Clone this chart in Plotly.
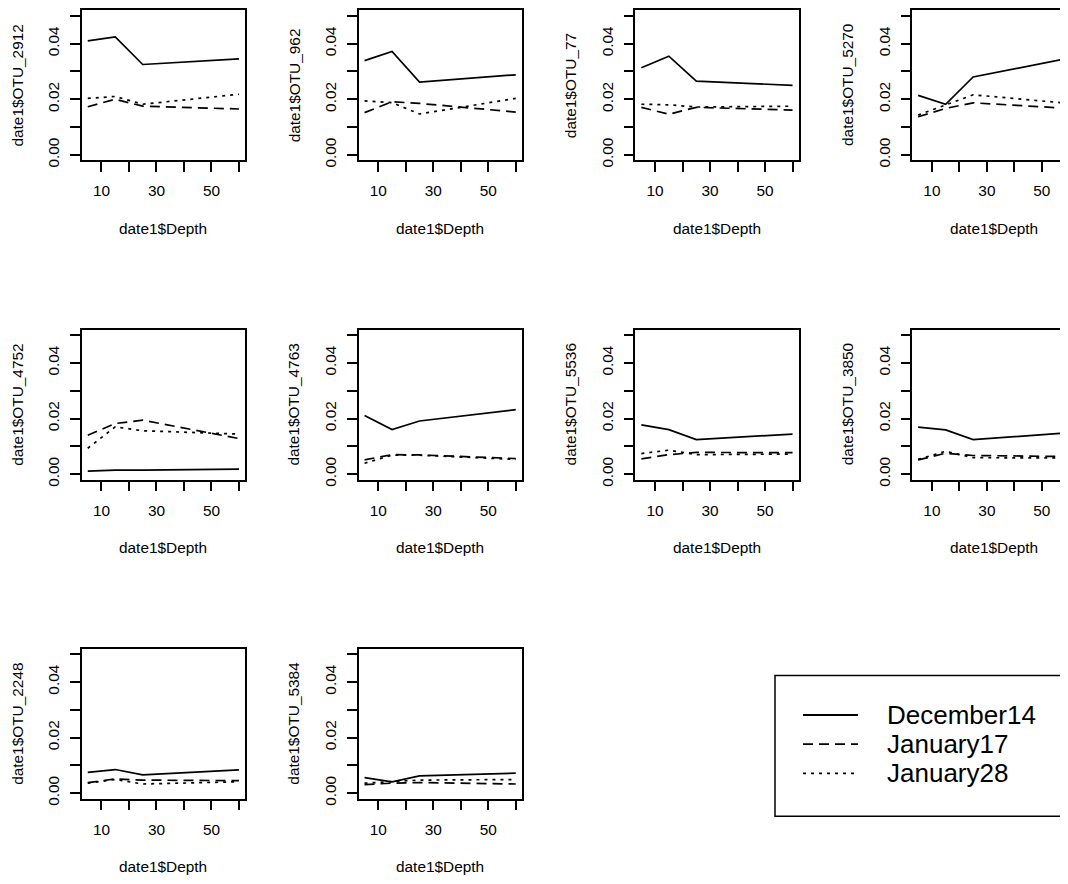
import plotly.graph_objects as go

# ---------------- data ----------------
depth = [5, 15, 25, 60]

otu_names = ["OTU_2912", "OTU_962", "OTU_77", "OTU_5270", "OTU_4752",
             "OTU_4763", "OTU_5536", "OTU_3850", "OTU_2248", "OTU_5384"]

december14 = [
    [0.0410, 0.0424, 0.0325, 0.0345],
    [0.0339, 0.0372, 0.0262, 0.0288],
    [0.0313, 0.0355, 0.0265, 0.0250],
    [0.0214, 0.0182, 0.0280, 0.0348],
    [0.0011, 0.0014, 0.0014, 0.0018],
    [0.0211, 0.0160, 0.0191, 0.0232],
    [0.0177, 0.0160, 0.0124, 0.0144],
    [0.0169, 0.0159, 0.0124, 0.0149],
    [0.0075, 0.0085, 0.0066, 0.0084],
    [0.0056, 0.0041, 0.0062, 0.0072],
]
january17 = [
    [0.0173, 0.0200, 0.0175, 0.0165],
    [0.0152, 0.0191, 0.0185, 0.0154],
    [0.0171, 0.0146, 0.0171, 0.0161],
    [0.0137, 0.0167, 0.0187, 0.0167],
    [0.0140, 0.0182, 0.0194, 0.0128],
    [0.0051, 0.0070, 0.0069, 0.0056],
    [0.0055, 0.0070, 0.0078, 0.0077],
    [0.0051, 0.0075, 0.0067, 0.0063],
    [0.0038, 0.0051, 0.0047, 0.0045],
    [0.0031, 0.0036, 0.0038, 0.0033],
]
january28 = [
    [0.0203, 0.0210, 0.0182, 0.0218],
    [0.0194, 0.0188, 0.0147, 0.0203],
    [0.0182, 0.0180, 0.0172, 0.0175],
    [0.0143, 0.0179, 0.0216, 0.0185],
    [0.0093, 0.0170, 0.0156, 0.0144],
    [0.0039, 0.0068, 0.0068, 0.0053],
    [0.0074, 0.0086, 0.0070, 0.0072],
    [0.0053, 0.0082, 0.0059, 0.0058],
    [0.0036, 0.0049, 0.0033, 0.0041],
    [0.0036, 0.0041, 0.0047, 0.0049],
]

series_names = ["December14", "January17", "January28"]
series_data = [december14, january17, january28]
series_dash = ["solid", "10px,6px", "3px,5px"]

x_tickvals = [10, 20, 30, 40, 50, 60]
x_ticktext = ["10", "", "30", "", "50", ""]
y_tickvals = [0.00, 0.01, 0.02, 0.03, 0.04, 0.05]
y_ticktext = ["0.00", "", "0.02", "", "0.04", ""]

# ---------------- layout geometry ----------------
# The page body has an 8px default margin; the figure is sized so that
# it fills the rest of the 1068x884 window.
OFF = 8
W, H = 1068 - OFF, 884 - OFF
FONT = "Liberation Sans, Arial, Helvetica, sans-serif"
FS = 15.4
box_w, box_h = 163.3, 151.5
col_left = [81.7 + 276.8 * c - OFF for c in range(4)]
row_top = [t - OFF for t in (9.3, 331.5, 653.5)]
x_full = [5 - 0.04 * 55, 60 + 0.04 * 55]   # R-style 4% padding
y_full = [0 - 0.04 * 0.05, 0.05 + 0.04 * 0.05]

fig = go.Figure()
layout = dict(
    width=W, height=H,
    margin=dict(l=0, r=0, t=0, b=0),
    paper_bgcolor="white", plot_bgcolor="white",
    showlegend=False,
    font=dict(family=FONT, size=FS, color="black"),
)
annotations = []
shapes = []

for i, name in enumerate(otu_names):
    r, c = divmod(i, 4)
    n = i + 1
    xs = "" if n == 1 else str(n)
    left = col_left[c]
    right = left + box_w
    xr = list(x_full)
    mirror_y = True
    if right > W:
        xr[1] = x_full[0] + (W - left) / box_w * (x_full[1] - x_full[0])
        right = W
        mirror_y = False
    top = row_top[r]
    bottom = top + box_h
    for s in range(3):
        fig.add_trace(go.Scatter(
            x=depth, y=series_data[s][i], mode="lines",
            name=series_names[s], legendgroup=series_names[s],
            line=dict(color="black", width=1.7, dash=series_dash[s]),
            xaxis="x" + xs, yaxis="y" + xs, showlegend=False,
            hoverinfo="x+y+name",
        ))
    layout["xaxis" + xs] = dict(
        domain=[left / W, right / W], anchor="y" + xs, range=xr,
        showgrid=False, zeroline=False, showline=True, mirror=True,
        linecolor="black", linewidth=1.8,
        ticks="outside", ticklen=9.5, tickwidth=1.8, tickcolor="black",
        tickvals=x_tickvals, ticktext=x_ticktext, ticklabelstandoff=6,
        tickfont=dict(family=FONT, size=FS, color="black"),
    )
    layout["yaxis" + xs] = dict(
        domain=[1 - bottom / H, 1 - top / H], anchor="x" + xs, range=y_full,
        showgrid=False, zeroline=False, showline=True, mirror=mirror_y,
        linecolor="black", linewidth=1.8,
        ticks="outside", ticklen=9.5, tickwidth=1.8, tickcolor="black",
        tickvals=y_tickvals, ticktext=y_ticktext, tickangle=-90,
        ticklabelstandoff=5,
        tickfont=dict(family=FONT, size=FS, color="black"),
    )
    annotations.append(dict(
        text="date1$Depth", xref="x" + xs + " domain", yref="y" + xs + " domain",
        x=(box_w / 2) / (right - left),
        y=0, yshift=-68, xanchor="center", yanchor="middle", showarrow=False,
        font=dict(family=FONT, size=FS, color="black"),
    ))
    annotations.append(dict(
        text="date1$" + name, xref="x" + xs + " domain", yref="y" + xs + " domain",
        x=0, xshift=-64.5, y=0.5, textangle=-90,
        xanchor="center", yanchor="middle", showarrow=False,
        font=dict(family=FONT, size=FS, color="black"),
    ))

# ---------------- legend (drawn like R's legend box) ----------------
leg_left, leg_top, leg_bottom = 775 - OFF, 680.7 - OFF, 822.7 - OFF
shapes.append(dict(type="rect", xref="paper", yref="paper",
                   x0=leg_left / W, x1=(W + 10) / W,
                   y0=1 - leg_bottom / H, y1=1 - leg_top / H,
                   line=dict(color="black", width=1.5), fillcolor="rgba(0,0,0,0)"))
leg_rows = [720.5 - OFF, 750.0 - OFF, 779.5 - OFF]
for s in range(3):
    yy = 1 - leg_rows[s] / H
    shapes.append(dict(type="line", xref="paper", yref="paper",
                       x0=(803 - OFF) / W, x1=(858 - OFF) / W, y0=yy, y1=yy,
                       line=dict(color="black", width=1.8, dash=series_dash[s])))
    annotations.append(dict(
        text=series_names[s], xref="paper", yref="paper",
        x=(885 - OFF) / W, y=yy, xanchor="left", yanchor="middle", showarrow=False,
        font=dict(family=FONT, size=26, color="black"),
    ))

layout["annotations"] = annotations
layout["shapes"] = shapes
fig.update_layout(**layout)
fig.write_html("out.html")
